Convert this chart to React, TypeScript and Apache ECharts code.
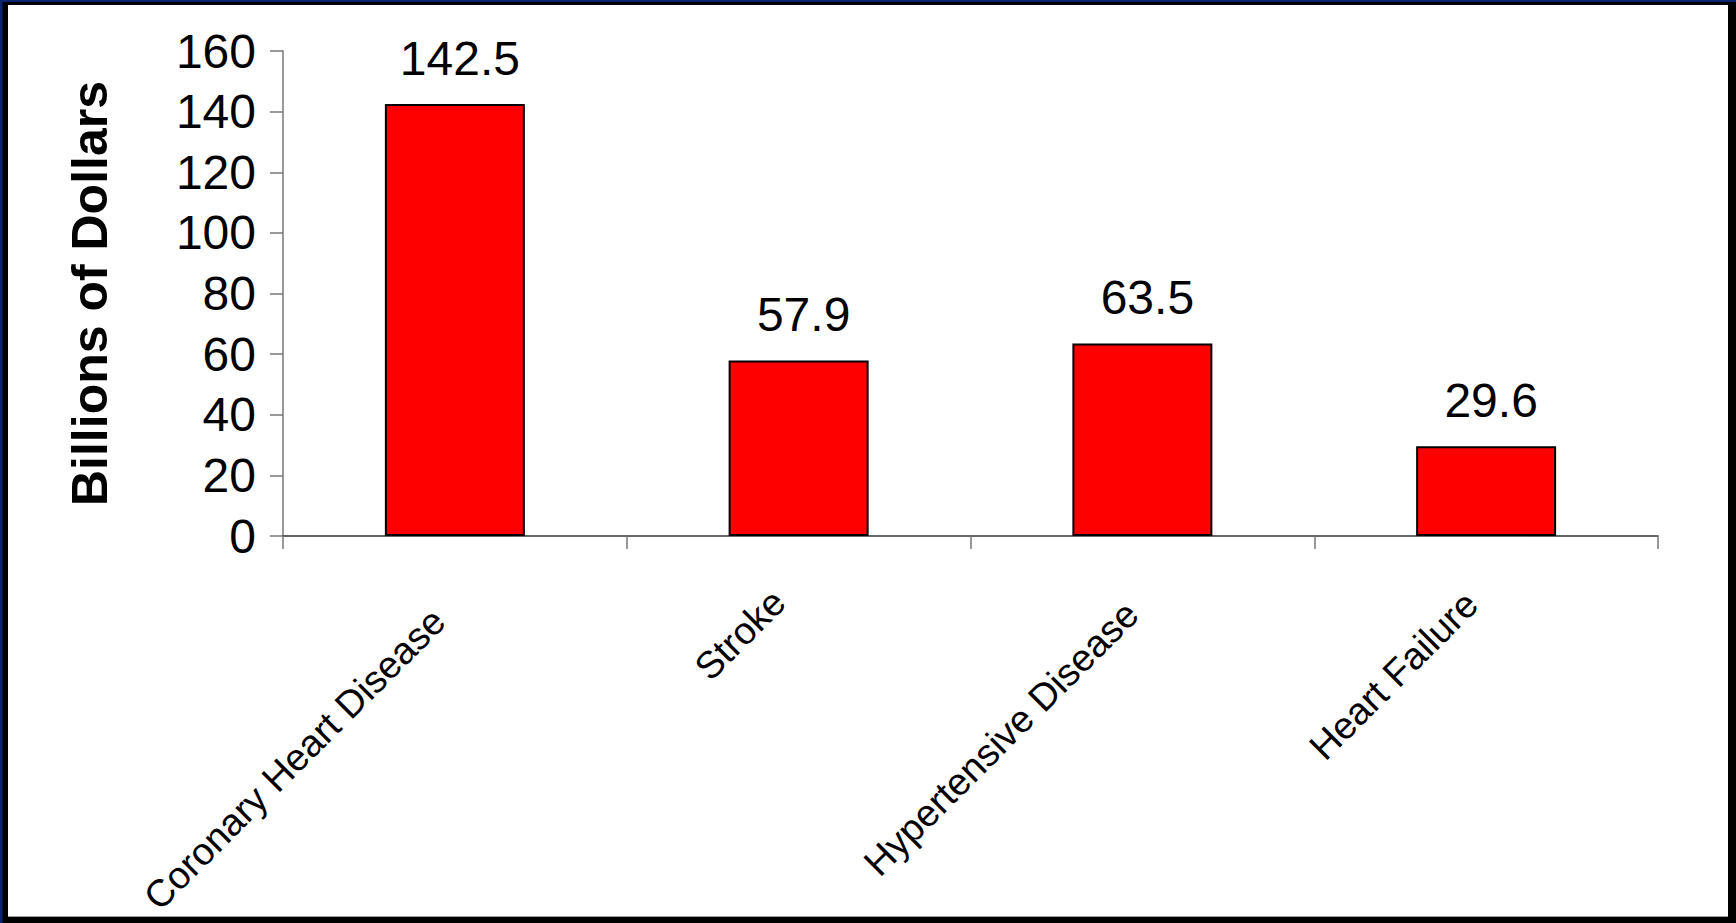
import React, { useEffect, useRef } from "react";
import * as echarts from "echarts";

// Annual cost by cardiovascular condition
const categories = [
  "Coronary Heart Disease",
  "Stroke",
  "Hypertensive Disease",
  "Heart Failure",
];
const costs = [142.5, 57.9, 63.5, 29.6];
const yTicks = { min: 0, max: 160, interval: 20 };

// slanted category names: space trimmed off the end of the baseline,
// and how far each is pushed down-right, across its baseline
const labelTrailPad = [39, 28, 30, 26];
const labelDrop = [16, 0, 15, 5];

const W = 1736;
const H = 923;
const FONT = "'Liberation Sans', Arial, sans-serif";

function categoryItem(name: string, i: number) {
  const drop = labelDrop[i];
  const textStyle: any = { padding: [0, labelTrailPad[i], 0, 0] };
  if (drop > 0) {
    // top-anchored line whose centre sits `drop` px past the anchor
    textStyle.verticalAlign = "top";
    textStyle.lineHeight = drop * 2;
  }
  return { value: name, textStyle };
}

export default function App() {
  const ref = useRef<HTMLDivElement>(null);

  useEffect(() => {
    if (!ref.current) return;
    document.body.style.margin = "0";
    const chart = echarts.init(ref.current, undefined, { renderer: "svg" });

    chart.setOption({
      animation: false,
      backgroundColor: "#ffffff",
      textStyle: { fontFamily: FONT },
      graphic: [
        // slide frame: navy rim, black border, white panel
        { type: "rect", z: -10, silent: true, shape: { x: 0, y: 0, width: W, height: H }, style: { fill: "#0a2470" } },
        { type: "rect", z: -9, silent: true, shape: { x: 2.5, y: 2, width: W - 2.5, height: H - 2 }, style: { fill: "#000000" } },
        { type: "rect", z: -8, silent: true, shape: { x: 8, y: 5, width: 1720, height: 911 }, style: { fill: "#ffffff" } },
        { type: "line", z: -7, silent: true, shape: { x1: 8, y1: 916.5, x2: 1728, y2: 916.5 }, style: { stroke: "#9a9a9a", lineWidth: 1 } },
      ],
      grid: { left: 283, right: 78, top: 51, bottom: 387, containLabel: false },
      xAxis: {
        type: "category",
        data: categories.map(categoryItem),
        axisLine: { lineStyle: { color: "#333333", width: 1.5 } },
        axisTick: { show: true, length: 13, lineStyle: { color: "#777777", width: 1.5 } },
        axisLabel: {
          interval: 0,
          rotate: 45,
          margin: 40,
          color: "#000000",
          fontSize: 38,
          fontFamily: FONT,
        },
      },
      yAxis: {
        type: "value",
        min: yTicks.min,
        max: yTicks.max,
        interval: yTicks.interval,
        name: "Billions of Dollars",
        nameLocation: "middle",
        nameGap: 168,
        nameRotate: 90,
        nameTextStyle: { color: "#000000", fontSize: 50, fontWeight: "bold", fontFamily: FONT },
        splitLine: { show: false },
        axisLine: { show: true, lineStyle: { color: "#777777", width: 1.5 } },
        axisTick: { show: true, length: 13, lineStyle: { color: "#777777", width: 1.5 } },
        axisLabel: { margin: 27, color: "#000000", fontSize: 48, fontFamily: FONT },
      },
      series: [
        {
          type: "bar",
          data: costs,
          barWidth: 140,
          itemStyle: { color: "#ff0000", borderColor: "#000000", borderWidth: 2 },
          label: {
            show: true,
            position: "top",
            distance: 22,
            offset: [5, 0],
            color: "#000000",
            fontSize: 48,
            fontFamily: FONT,
            formatter: (p: any) => String(p.value),
          },
        },
      ],
    });

    return () => chart.dispose();
  }, []);

  return (
    <div
      ref={ref}
      style={{ position: "fixed", left: 0, top: 0, width: W, height: H }}
    />
  );
}
